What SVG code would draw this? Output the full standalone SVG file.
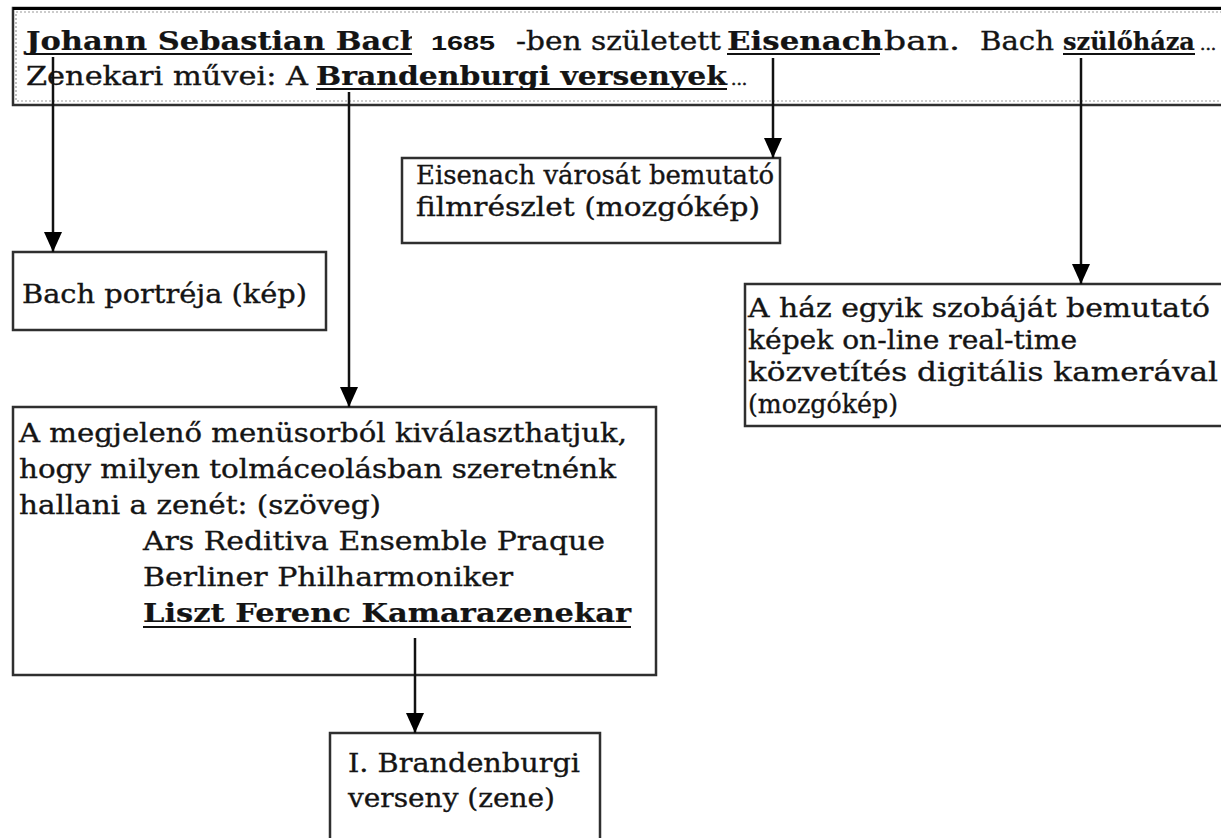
<svg xmlns="http://www.w3.org/2000/svg" width="1221" height="838" viewBox="0 0 1221 838">
<style>
  .t{font-family:"DejaVu Serif","Liberation Serif",serif;font-size:26px;fill:#141414;stroke:#141414;stroke-width:0.35}
  .b{font-weight:bold;stroke-width:0.2}
  .sm{font-size:24px}
  .dots{font-size:17px;stroke-width:0.6}
  .n{font-family:"Liberation Sans",Arial,sans-serif;font-weight:bold;font-size:21px;fill:#111}
  .box{fill:#fff;stroke:#2f2f2f;stroke-width:2.5}
  .inner{fill:none;stroke:#9a9a9a;stroke-width:1.2;stroke-dasharray:2 2}
  .u{stroke:#111;stroke-width:2}
  .c{stroke:#111;stroke-width:2.5;fill:none;marker-end:url(#ah)}
</style>
<defs>
  <marker id="ah" markerUnits="userSpaceOnUse" viewBox="0 0 20 18" markerWidth="20" markerHeight="18" refX="20" refY="9" orient="auto">
    <path d="M0,0 L20,9 L0,18 Z" fill="#000"/>
  </marker>
</defs>
<rect width="1221" height="838" fill="#fff"/>

<!-- hypertext page excerpt -->
<g id="page">
  <rect class="box" x="13" y="8" width="1220" height="97"/>
  <line x1="13" y1="8.5" x2="1221" y2="8.5" stroke="#000" stroke-width="3"/>
  <rect class="inner" x="16" y="12" width="1215" height="89"/>
  <text class="t b" x="26" y="50" textLength="396" lengthAdjust="spacingAndGlyphs">Johann Sebastian Bach</text>
  <line class="u" x1="26" y1="54" x2="412" y2="54"/>
  <rect x="412" y="26" width="94" height="32" fill="#fff"/>
  <text class="n" x="431" y="50" textLength="64" lengthAdjust="spacingAndGlyphs">1685</text>
  <text class="t" x="516" y="50" textLength="205" lengthAdjust="spacingAndGlyphs">-ben született</text>
  <text class="t b" x="727" y="50" textLength="156" lengthAdjust="spacingAndGlyphs">Eisenach</text>
  <line class="u" x1="727" y1="54" x2="880" y2="54"/>
  <text class="t" x="884" y="50" textLength="76" lengthAdjust="spacingAndGlyphs">ban.</text>
  <text class="t" x="980" y="50" textLength="74" lengthAdjust="spacingAndGlyphs">Bach</text>
  <text class="t b sm" x="1063" y="50">szülőháza</text>
  <line class="u" x1="1063" y1="54" x2="1195" y2="54"/>
  <text class="t dots" x="1200" y="50">...</text>
  <text class="t" x="26" y="85" textLength="282" lengthAdjust="spacingAndGlyphs">Zenekari művei: A</text>
  <text class="t b" x="316" y="85" textLength="411" lengthAdjust="spacingAndGlyphs">Brandenburgi versenyek</text>
  <line class="u" x1="316" y1="89" x2="727" y2="89"/>
  <text class="t dots" x="731" y="85">...</text>
</g>

<g id="eisenach-film">
  <rect class="box" x="402" y="158" width="378" height="85"/>
  <text class="t" x="416" y="184" textLength="358" lengthAdjust="spacingAndGlyphs">Eisenach városát bemutató</text>
  <text class="t" x="416" y="216" textLength="344" lengthAdjust="spacingAndGlyphs">filmrészlet (mozgókép)</text>
</g>

<g id="portrait">
  <rect class="box" x="13" y="252" width="313" height="78"/>
  <text class="t" x="22" y="303" textLength="285" lengthAdjust="spacingAndGlyphs">Bach portréja (kép)</text>
</g>

<g id="room-camera">
  <rect class="box" x="745" y="284" width="490" height="142"/>
  <text class="t" x="748" y="317" textLength="462" lengthAdjust="spacingAndGlyphs">A ház egyik szobáját bemutató</text>
  <text class="t" x="748" y="349" textLength="329" lengthAdjust="spacingAndGlyphs">képek on-line real-time</text>
  <text class="t" x="748" y="381" textLength="470" lengthAdjust="spacingAndGlyphs">közvetítés digitális kamerával</text>
  <text class="t" x="748" y="413" textLength="150" lengthAdjust="spacingAndGlyphs">(mozgókép)</text>
</g>

<g id="menu">
  <rect class="box" x="13" y="407" width="643" height="268"/>
  <text class="t" x="19" y="442" textLength="608" lengthAdjust="spacingAndGlyphs">A megjelenő menüsorból kiválaszthatjuk,</text>
  <text class="t" x="19" y="478" textLength="597" lengthAdjust="spacingAndGlyphs">hogy milyen tolmáceolásban szeretnénk</text>
  <text class="t" x="19" y="514" textLength="362" lengthAdjust="spacingAndGlyphs">hallani a zenét: (szöveg)</text>
  <text class="t" x="143" y="550" textLength="462" lengthAdjust="spacingAndGlyphs">Ars Reditiva Ensemble Praque</text>
  <text class="t" x="143" y="586" textLength="370" lengthAdjust="spacingAndGlyphs">Berliner Philharmoniker</text>
  <text class="t b" x="143" y="622" textLength="488" lengthAdjust="spacingAndGlyphs">Liszt Ferenc Kamarazenekar</text>
  <line class="u" x1="143" y1="627" x2="631" y2="627"/>
</g>

<g id="concerto">
  <rect class="box" x="330" y="733" width="270" height="130"/>
  <text class="t" x="348" y="772" textLength="232" lengthAdjust="spacingAndGlyphs">I. Brandenburgi</text>
  <text class="t" x="348" y="807" textLength="207" lengthAdjust="spacingAndGlyphs">verseny (zene)</text>
</g>

<g id="connectors">
  <path class="c" d="M53,57 V252"/>
  <path class="c" d="M349,92 V407"/>
  <path class="c" d="M773,58 V158"/>
  <path class="c" d="M1081,58 V284"/>
  <path class="c" d="M415,638 V733"/>
</g>
</svg>
